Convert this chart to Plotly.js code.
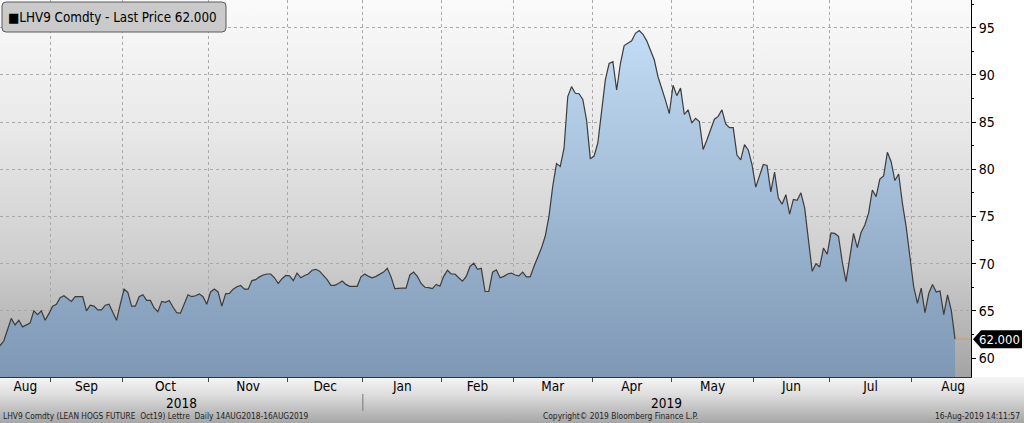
<!DOCTYPE html>
<html><head><meta charset="utf-8">
<script src="https://cdn.plot.ly/plotly-3.0.1.min.js"></script>
<style>
html,body{margin:0;padding:0;background:#fff;}
#wrap{position:relative;width:1024px;height:423px;overflow:hidden;background:#fff;}
#bgPlot{position:absolute;left:0;top:0;width:971px;height:377px;background:linear-gradient(to bottom,#fafafa 0%,#e8e8e8 35%,#cdcdcd 70%,#a4a4a4 100%);}
#bgBottom{position:absolute;left:0;top:377px;width:1024px;height:46px;background:linear-gradient(to bottom,#f6f6f6 0%,#dcdcdc 40%,#a6a6a6 100%);}
#chart{position:absolute;left:0;top:0;width:1024px;height:423px;}
</style></head>
<body>
<div id="wrap"><div id="bgPlot"></div><div id="bgBottom"></div><div id="chart"></div></div>
<script>
// LHV9 Comdty (Lean Hogs Oct19) last price, one value per trading session, 14-Aug-2018 .. 16-Aug-2019
const price = [
 61.3,61.8,63.0,64.2,63.5,64.0,63.3,63.5,63.7,65.0, 64.6,65.0,64.0,64.7,65.5,65.7,66.4,66.6,66.3,66.0,
 66.5,66.5,66.5,65.0,65.6,65.5,65.1,65.1,65.6,65.7, 64.9,64.0,65.7,67.3,66.95,65.5,65.5,66.5,66.7,66.1,
 66.1,65.3,64.9,66.0,65.9,66.1,65.4,64.8,64.75,65.7, 66.7,66.5,66.6,66.8,66.5,65.7,67.0,67.3,67.0,65.5,
 66.8,66.85,67.3,67.55,67.7,67.3,67.3,68.2,68.3,68.6, 68.8,68.9,68.9,68.5,67.9,68.4,68.75,68.7,68.2,69.0,
 68.5,68.75,68.9,69.3,69.4,69.2,68.8,68.3,67.7,67.7, 67.9,68.15,67.8,67.6,67.6,67.6,68.6,68.9,68.65,68.5,
 68.65,68.9,69.1,69.5,68.6,67.35,67.4,67.4,67.4,68.8, 69.1,68.65,67.9,67.5,67.45,67.35,67.8,67.6,68.65,69.3,
 68.9,68.9,68.5,68.15,68.65,69.7,70.05,69.4,69.5,67.05, 67.05,69.1,69.35,68.5,68.65,68.9,69.0,68.8,68.7,69.1,
 68.6,68.6,69.7,70.7,71.65,72.9,75.0,78.2,80.6,80.3, 82.2,87.7,88.75,88.05,88.0,87.4,85.2,81.1,81.4,82.8,
 85.9,89.5,91.2,91.4,88.4,91.2,93.1,93.35,93.6,94.4, 94.7,94.3,93.6,92.6,91.6,89.8,88.6,87.3,85.9,88.9,
 87.8,88.6,85.8,86.3,84.9,85.4,85.05,82.1,83.1,84.2, 85.3,85.6,86.3,84.8,84.4,84.4,81.5,81.0,82.6,82.05,
 80.5,78.1,79.2,80.5,80.4,77.6,79.7,76.95,76.3,77.3, 75.25,76.8,76.7,77.5,75.9,72.55,69.2,70.0,69.65,71.65,
 71.0,73.25,73.2,72.9,70.2,68.1,70.7,73.2,71.7,73.3, 74.1,75.35,77.8,77.1,78.95,79.3,81.8,80.8,78.8,79.5,
 76.4,73.9,70.7,67.55,65.8,67.4,64.8,66.85,67.8,67.0, 67.1,64.6,66.7,65.05,62.0
];
// trading-session index of the first session of each month (Aug-2018 .. Sep-2019)
const monthStart  = [-9, 14, 33, 56, 77, 97, 118, 137, 158, 179, 201, 221, 243, 265];
const monthLabels = ['Aug','Sep','Oct','Nov','Dec','Jan','Feb','Mar','Apr','May','Jun','Jul','Aug'];
const yearLabels  = ['2018','2019'];
const yearStart   = [-9, 97];
const lastLabel   = '62.000';
const legendText  = '\u25A0LHV9 Comdty - Last Price 62.000';
const footerLeft  = 'LHV9 Comdty (LEAN HOGS FUTURE  Oct19) Lettre  Daily 14AUG2018-16AUG2019';
const footerMid   = 'Copyright\u00A9 2019 Bloomberg Finance L.P.';
const footerRight = '16-Aug-2019 14:11:57';

const session = price.map((_, i) => i);
const lastIdx = session[session.length - 1];
const lastVal = price[price.length - 1];

const XR = [0, 258.24];
const YR = [57.99, 97.93];
const FONT = '"DejaVu Sans Condensed", "DejaVu Sans", Tahoma, sans-serif';

const boundaries = monthStart.slice(1, 13).map(s => s - 0.5);
const centers = monthLabels.map((m, i) => (Math.max(monthStart[i] - 0.5, XR[0]) + (monthStart[i + 1] - 0.5)) / 2);

const trace = {
  type: 'scatter', mode: 'lines', x: session, y: price,
  line: {color: '#3c3c3c', width: 1.2},
  fill: 'tozeroy',
  fillgradient: {type: 'vertical', start: YR[0], stop: 95,
    colorscale: [[0, '#7d97b4'], [1, '#c4ddf6']]},
  hoverinfo: 'skip', showlegend: false
};

const annotations = [];
// legend text
annotations.push({xref: 'paper', yref: 'paper', x: 0, y: 1, xanchor: 'left', yanchor: 'middle',
  xshift: 6, yshift: -17, text: legendText, showarrow: false,
  font: {family: FONT, size: 13.3, color: '#000'}});
// year labels
const yBounds = [XR[0], yearStart[1] - 0.5, XR[1]];
yearLabels.forEach((t, i) => {
  annotations.push({xref: 'x', yref: 'paper', x: (yBounds[i] + yBounds[i + 1]) / 2, y: 0,
    yanchor: 'middle', yshift: -25.5, text: t, showarrow: false,
    font: {family: FONT, size: 13.5, color: '#000'}});
});
// last price label
annotations.push({xref: 'paper', yref: 'y', x: 1, y: lastVal, xanchor: 'left', yanchor: 'middle',
  xshift: 6, text: lastLabel, showarrow: false, font: {family: FONT, size: 13, color: '#fff'}});
// footer
annotations.push({xref: 'paper', yref: 'paper', x: 0, y: 0, xanchor: 'left', yanchor: 'middle',
  xshift: 1, yshift: -39, text: footerLeft, showarrow: false, font: {family: FONT, size: 8.3, color: '#222'}});
annotations.push({xref: 'paper', yref: 'paper', x: 620 / 971, y: 0, xanchor: 'center', yanchor: 'middle',
  yshift: -39, text: footerMid, showarrow: false, font: {family: FONT, size: 8.4, color: '#222'}});
annotations.push({xref: 'paper', yref: 'paper', x: 1, y: 0, xanchor: 'right', yanchor: 'middle',
  xshift: 51, yshift: -39, text: footerRight, showarrow: false, font: {family: FONT, size: 8.4, color: '#222'}});

const shapes = [
  // legend box
  {type: 'path', xref: 'paper', yref: 'paper', xsizemode: 'pixel', ysizemode: 'pixel', xanchor: 0, yanchor: 1,
   path: 'M 6,-2 L 222,-2 Q 226,-2 226,-6 L 226,-28 Q 226,-32 222,-32 L 6,-32 Q 2,-32 2,-28 L 2,-6 Q 2,-2 6,-2 Z',
   fillcolor: '#cacaca', line: {color: '#5a5a5a', width: 1}, layer: 'above'},
  // last price marker
  {type: 'path', xref: 'paper', yref: 'y', xsizemode: 'pixel', ysizemode: 'pixel', xanchor: 1, yanchor: lastVal,
   path: 'M 2,0 L 10,9 L 51,9 L 51,-9 L 10,-9 Z', fillcolor: '#000', line: {width: 0}, layer: 'above'},
  // orange level line
  {type: 'line', xref: 'x', yref: 'y', x0: lastIdx, x1: XR[1], y0: lastVal, y1: lastVal,
   line: {color: '#e69a3c', width: 1}},
  // year separator
  {type: 'line', xref: 'x', yref: 'paper', x0: yearStart[1] - 0.5, x1: yearStart[1] - 0.5,
   y0: -17 / 377, y1: -34 / 377, line: {color: '#777', width: 1}}
];

const layout = {
  width: 1024, height: 423,
  margin: {l: 0, r: 53, t: 0, b: 46, pad: 0},
  paper_bgcolor: 'rgba(0,0,0,0)', plot_bgcolor: 'rgba(0,0,0,0)',
  showlegend: false,
  xaxis: {
    range: XR, fixedrange: true, zeroline: false,
    tickmode: 'array', tickvals: centers, ticktext: monthLabels,
    ticks: '', showgrid: false, showline: true, linecolor: '#333', linewidth: 1,
    ticklabelstandoff: -3,
    tickfont: {family: FONT, size: 13.5, color: '#000'},
    minor: {tickmode: 'array', tickvals: boundaries, ticks: 'outside', ticklen: 4, tickcolor: '#444',
      showgrid: true, gridcolor: '#a9a9a9', griddash: 'dot', gridwidth: 1}
  },
  yaxis: {
    range: YR, side: 'right', fixedrange: true, zeroline: false,
    tickmode: 'linear', tick0: 0, dtick: 5,
    ticks: 'outside', ticklen: 4, tickcolor: '#000',
    showline: true, linecolor: '#000', linewidth: 1,
    showgrid: true, gridcolor: '#a9a9a9', griddash: 'dot', gridwidth: 1,
    tickfont: {family: FONT, size: 14, color: '#000'},
    minor: {dtick: 2.5, tick0: 0, ticks: 'outside', ticklen: 2, tickcolor: '#000', showgrid: false}
  },
  annotations: annotations,
  shapes: shapes,
  hovermode: false
};

Plotly.newPlot('chart', [trace], layout, {staticPlot: true, displayModeBar: false});
</script>
</body></html>
